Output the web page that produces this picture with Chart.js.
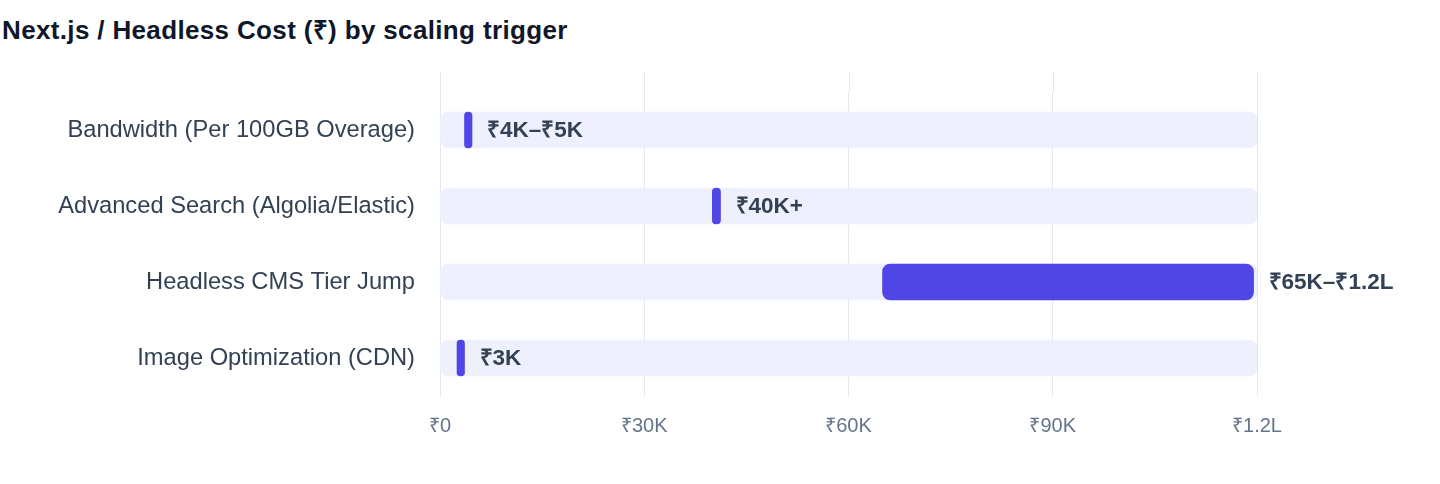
<!DOCTYPE html>
<html>
<head>
<meta charset="utf-8">
<script src="https://cdn.jsdelivr.net/npm/chart.js@4.4.1/dist/chart.umd.min.js"></script>
<style>
  body { margin: 0; background: #fff; font-family: "Liberation Sans", Arial, Helvetica, sans-serif; }
  #title {
    position: absolute; left: 2px; top: 15px; margin: 0;
    font-size: 26px; font-weight: 700; line-height: 30px; color: #0f172a;
    letter-spacing: 0.35px; white-space: nowrap;
  }
  #wrap { position: absolute; left: 0; top: 0; width: 1440px; height: 484px; }
</style>
</head>
<body>
<h2 id="title">Next.js / Headless Cost (₹) by scaling trigger</h2>
<div id="wrap"><canvas id="costChart"></canvas></div>
<script>
'use strict';

var categories = [
  "Bandwidth (Per 100GB Overage)",
  "Advanced Search (Algolia/Elastic)",
  "Headless CMS Tier Jump",
  "Image Optimization (CDN)",
];

// 各バーの開始・終了（₹）
var costLow = [3600, 40000, 65000, 2500];
var costHigh = [4700, 41200, 119500, 3600];
var costLabels = ["₹4K–₹5K", "₹40K+", "₹65K–₹1.2L", "₹3K"];

// 背景トラック
var trackMax = 120000;
var tickStep = 30000;

var ink = "#334155";
var indigo = "#4f46e5";
var trackColor = "#eef0fd";
var gridColor = "#e2e8f0";

function money(v) {
  if (v === 0) return "₹0";
  if (v >= 100000) return "₹" + (v / 100000) + "L";
  return "₹" + (v / 1000) + "K";
}

// グリッド線を少し上まで伸ばす
var gridExtend = {
  id: "gridExtend",
  beforeDatasetsDraw: function (chart) {
    var c = chart.ctx, x = chart.scales.x, top = chart.chartArea.top;
    c.save();
    c.strokeStyle = gridColor;
    c.lineWidth = 1;
    x.ticks.forEach(function (t) {
      var px = Math.round(x.getPixelForValue(t.value)) + 0.5;
      c.beginPath();
      c.moveTo(px, top - 20);
      c.lineTo(px, top);
      c.stroke();
    });
    c.restore();
  },
};

// バーの右に値ラベル
var valueLabels = {
  id: "valueLabels",
  afterDatasetsDraw: function (chart) {
    var c = chart.ctx;
    var meta = chart.getDatasetMeta(0);
    c.save();
    c.font = "bold 22.5px 'Liberation Sans', Arial, sans-serif";
    c.fillStyle = ink;
    c.textBaseline = "middle";
    c.textAlign = "left";
    meta.data.forEach(function (bar, i) {
      var right = Math.max(bar.x, bar.base);
      c.fillText(costLabels[i], right + 15, bar.y + 1);
    });
    c.restore();
  },
};

var ctx = document.getElementById("costChart").getContext("2d");

var costChart = new Chart(ctx, {
  type: "bar",
  data: {
    labels: categories,
    datasets: [
      {
        data: costLow.map(function (lo, i) { return [lo, costHigh[i]]; }),
        backgroundColor: indigo,
        borderRadius: 8,
        borderSkipped: false,
        barThickness: 36,
        grouped: false,
      },
      {
        data: categories.map(function () { return [0, trackMax]; }),
        backgroundColor: trackColor,
        borderRadius: 8,
        borderSkipped: false,
        barThickness: 36,
        grouped: false,
      },
    ],
  },
  options: {
    indexAxis: "y",
    responsive: true,
    maintainAspectRatio: false,
    animation: false,
    layout: { padding: { top: 92, right: 183, bottom: 28, left: 0 } },
    plugins: {
      legend: { display: false },
      tooltip: { enabled: false },
    },
    scales: {
      x: {
        min: 0,
        max: trackMax,
        border: { display: false },
        grid: { color: gridColor, drawTicks: false },
        ticks: {
          stepSize: tickStep,
          padding: 18,
          color: "#64748b",
          font: { family: "'Liberation Sans', Arial, sans-serif", size: 20 },
          callback: function (v) { return money(v); },
        },
      },
      y: {
        border: { display: false },
        grid: { display: false },
        afterFit: function (scale) { scale.width = 440; },
        ticks: {
          padding: 17,
          color: ink,
          font: { family: "'Liberation Sans', Arial, sans-serif", size: 23.7 },
        },
      },
    },
  },
  plugins: [gridExtend, valueLabels],
});
</script>
</body>
</html>
